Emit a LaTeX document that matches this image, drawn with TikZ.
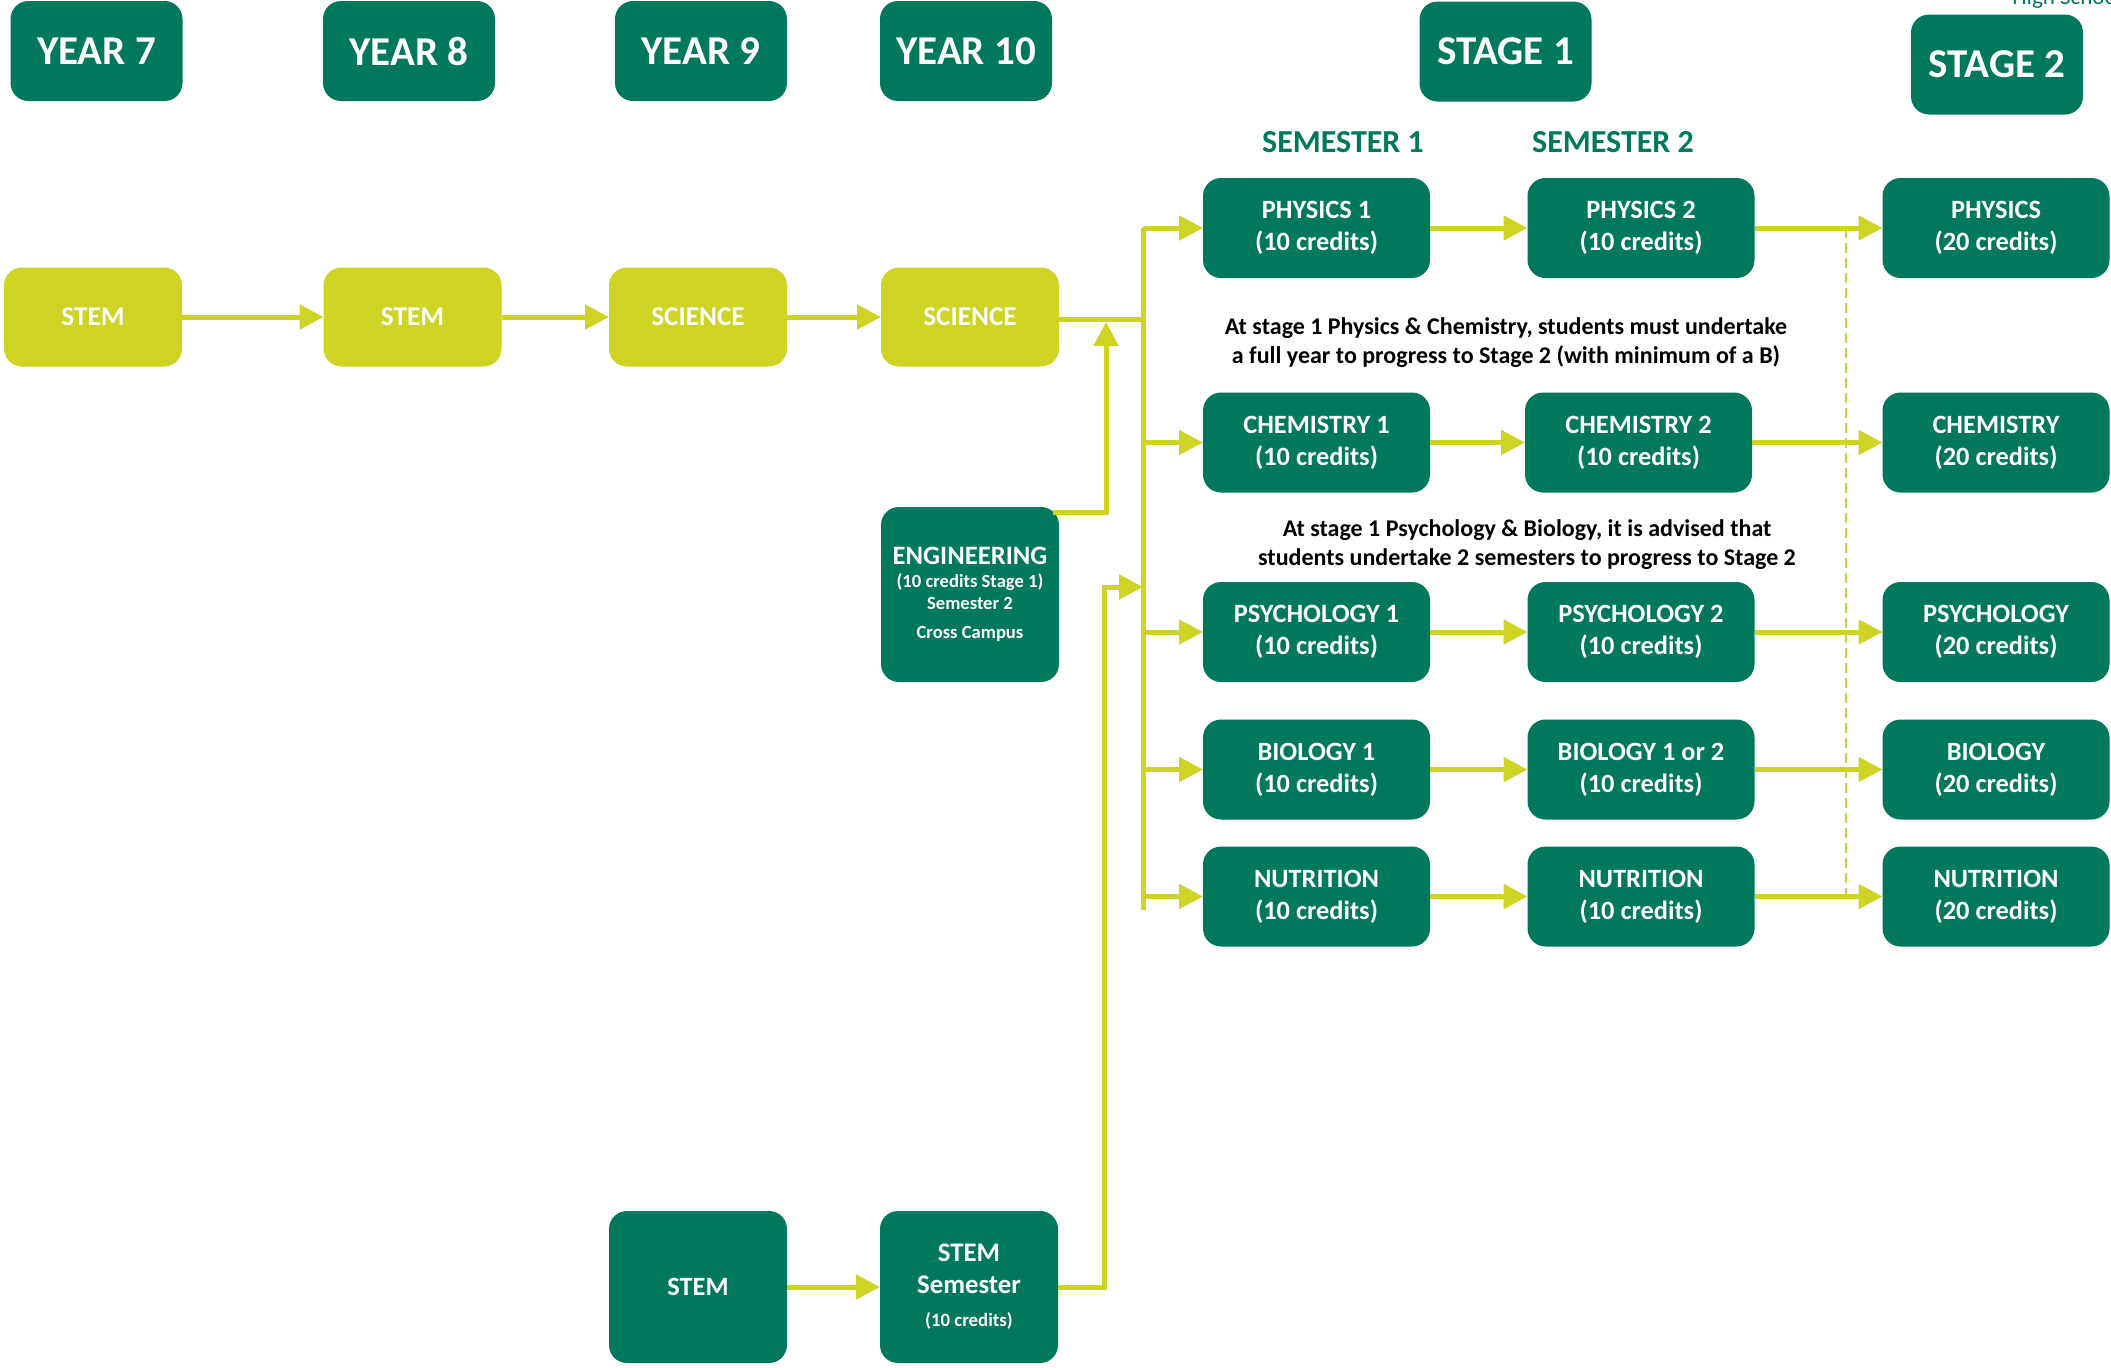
\documentclass[tikz,border=0pt]{standalone}
\usepackage{fontspec}
\setmainfont{Carlito}
\usetikzlibrary{arrows.meta,calc}
\definecolor{dgreen}{RGB}{0,120,92}
\definecolor{lime}{RGB}{205,212,36}
\begin{document}
\begin{tikzpicture}[x=0.5pt,y=-0.5pt,
 box/.style={rounded corners=9pt, inner sep=0pt, outer sep=0pt, align=center, text=white, font=\fontsize{13.2}{16}\selectfont\bfseries},
 dk/.style={box, fill=dgreen},
 lm/.style={box, fill=lime, minimum width=89pt, minimum height=49.5pt, font=\fontsize{13.6}{16}\selectfont\bfseries},
 hdr/.style={dk, minimum width=86pt, minimum height=50pt, font=\fontsize{20.5}{23}\selectfont\bfseries},
 crs/.style={dk, minimum width=113.5pt, minimum height=50pt},
 tall/.style={dk, minimum width=89pt},
 sem/.style={text=dgreen, font=\fontsize{16}{19}\selectfont\bfseries, inner sep=0pt},
 note/.style={text=black, align=center, font=\fontsize{12}{14.5}\selectfont\bfseries, inner sep=0pt},
 conn/.style={draw=lime, line width=2.5pt, -{Triangle[length=12pt,width=12pt]}},
 plain/.style={draw=lime, line width=2.5pt},
 guide/.style={draw=lime, line width=1.2pt, dash pattern=on 5pt off 2.5pt},
]
\useasboundingbox (0,0) rectangle (2111,1367);

% header
\node[hdr] (y7) at (96.5,51) {YEAR 7};
\node[hdr] (y8) at (409,51) {YEAR 8};
\node[hdr] (y9) at (701,51) {YEAR 9};
\node[hdr] (y10) at (966,51) {YEAR 10};
\node[hdr] (st1) at (1505.5,51.5) {STAGE 1};
\node[hdr] (st2) at (1997,64.5) {STAGE 2};
\node[text=dgreen, anchor=base west, font=\fontsize{11.5}{13}\selectfont, inner sep=0pt] (hs) at (2012,4) {High School};

\node[sem] (sem1) at (1343,142) {SEMESTER 1};
\node[sem] (sem2) at (1613,142) {SEMESTER 2};

% lime row
\node[lm] (s7) at (93,317) {STEM};
\node[lm] (s8) at (412.5,317) {STEM};
\node[lm] (s9) at (698,317) {SCIENCE};
\node[lm] (s10) at (970,317) {SCIENCE};

% courses
\node[crs] (p1) at (1316.5,228) {PHYSICS 1\\(10 credits)};
\node[crs] (p2) at (1641,228) {PHYSICS 2\\(10 credits)};
\node[crs] (p3) at (1996,228) {PHYSICS\\(20 credits)};
\node[crs] (c1) at (1316.5,442.5) {CHEMISTRY 1\\(10 credits)};
\node[crs] (c2) at (1638.5,442.5) {CHEMISTRY 2\\(10 credits)};
\node[crs] (c3) at (1996,442.5) {CHEMISTRY\\(20 credits)};
\node[crs] (q1) at (1316.5,632) {PSYCHOLOGY 1\\(10 credits)};
\node[crs] (q2) at (1641,632) {PSYCHOLOGY 2\\(10 credits)};
\node[crs] (q3) at (1996,632) {PSYCHOLOGY\\(20 credits)};
\node[crs] (b1) at (1316.5,769.5) {BIOLOGY 1\\(10 credits)};
\node[crs] (b2) at (1641,769.5) {BIOLOGY 1 or 2\\(10 credits)};
\node[crs] (b3) at (1996,769.5) {BIOLOGY\\(20 credits)};
\node[crs] (n1) at (1316.5,896.5) {NUTRITION\\(10 credits)};
\node[crs] (n2) at (1641,896.5) {NUTRITION\\(10 credits)};
\node[crs] (n3) at (1996,896.5) {NUTRITION\\(20 credits)};

% notes
\node[note] (note1) at (1506,342.5) {At stage 1 Physics \& Chemistry, students must undertake\\a full year to progress to Stage 2 (with minimum of a B)};
\node[note] (note2) at (1527,544.5) {At stage 1 Psychology \& Biology, it is advised that\\students undertake 2 semesters to progress to Stage 2};

% engineering and bottom
\node[tall, minimum height=87.5pt, font=\fontsize{9.3}{11}\selectfont\bfseries] (eng) at (970,594.5)
 {{\fontsize{13.3}{14}\selectfont ENGINEERING}\\[0.5pt](10 credits Stage 1)\\Semester 2\\[3.5pt]Cross Campus};
\node[tall, minimum height=76pt] (bs) at (698,1287) {STEM};
\node[tall, minimum height=76pt, font=\fontsize{13.4}{16}\selectfont\bfseries] (ss) at (969,1287)
 {STEM\\Semester\\[0.5pt]{\fontsize{9.4}{11}\selectfont (10 credits)}};

% connectors
\coordinate (bt) at (1143,228);
\coordinate (bb) at (1143,910);
\coordinate (dt) at (1846,228);
\coordinate (db) at (1846,896.5);
\coordinate (ec) at (1106,512);
\coordinate (et) at (1106,322);
\coordinate (sj) at (1104,1287);
\coordinate (sk) at (1104,587);

\draw[guide] (dt) -- (db);
\draw[conn] (s7.east) -- (s8.west);
\draw[conn] (s8.east) -- (s9.west);
\draw[conn] (s9.east) -- (s10.west);
\draw[plain] (s10.east |- 0,319) -- (bt |- 0,319);
\draw[plain] (bt) -- (bb);
\foreach \n in {p1,c1,q1,b1,n1} \draw[conn] (\n.west -| bt) -- (\n.west);
\draw[conn] (p1.east) -- (p2.west);
\draw[conn] (p2.east) -- (p3.west);
\draw[conn] (c1.east) -- (c2.west);
\draw[conn] (c2.east) -- (c3.west);
\draw[conn] (q1.east) -- (q2.west);
\draw[conn] (q2.east) -- (q3.west);
\draw[conn] (b1.east) -- (b2.west);
\draw[conn] (b2.east) -- (b3.west);
\draw[conn] (n1.east) -- (n2.west);
\draw[conn] (n2.east) -- (n3.west);
\draw[conn] ([xshift=-3pt,yshift=-2.5pt]eng.north east) -- (ec) -- (et);
\draw[conn] (bs.east) -- (ss.west);
\draw[conn] (ss.east) -- (sj) -- (sk) -- (sk -| bt);
\end{tikzpicture}
\end{document}
